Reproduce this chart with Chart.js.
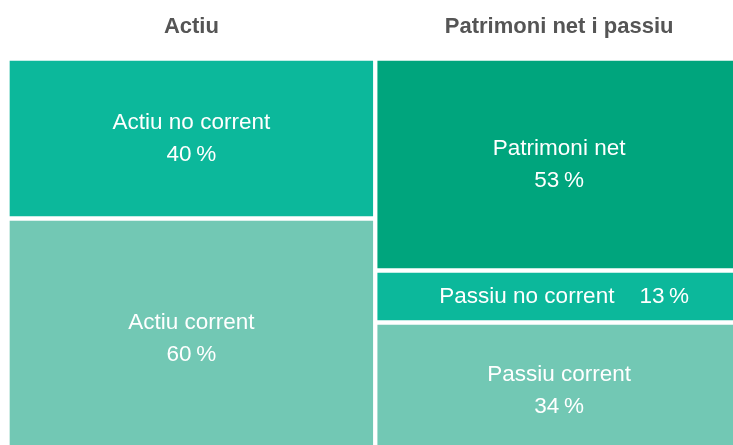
<!DOCTYPE html>
<html>
<head>
<meta charset="utf-8">
<script src="https://cdn.jsdelivr.net/npm/chart.js@4"></script>
<style>
  html, body { margin: 0; padding: 0; background: #fff; overflow: hidden; }
  #wrap { position: relative; width: 745px; height: 460px; }
</style>
</head>
<body>
<div id="wrap"><canvas id="chart"></canvas></div>
<script>
const columns = ['Actiu', 'Patrimoni net i passiu'];
// stacked bottom to top
const segmentNames = ['Actiu corrent', 'Actiu no corrent', 'Passiu corrent', 'Passiu no corrent', 'Patrimoni net'];
const segmentColumn = [0, 0, 1, 1, 1];
const segmentValues = [60, 40, 34, 13, 53];

const colors = ['#72c8b4', '#0cb89b', '#72c8b4', '#0cb89b', '#00a57d'];
const FONT = '"Liberation Sans", Arial, Helvetica, sans-serif';

const datasets = segmentNames.map((name, i) => ({
  label: name,
  data: columns.map((c, j) => j === segmentColumn[i] ? segmentValues[i] : null),
  backgroundColor: colors[i],
  borderColor: '#ffffff',
  borderWidth: 2.5,
  borderSkipped: false,
  categoryPercentage: 1,
  barPercentage: 1
}));

const segmentLabels = {
  id: 'segmentLabels',
  afterDatasetsDraw(chart) {
    const ctx = chart.ctx;
    ctx.save();
    ctx.fillStyle = '#ffffff';
    ctx.textAlign = 'center';
    ctx.textBaseline = 'middle';
    ctx.font = '22.5px ' + FONT;
    chart.data.datasets.forEach((ds, i) => {
      const meta = chart.getDatasetMeta(i);
      const el = meta.data[segmentColumn[i]];
      if (!el) return;
      const cy = (el.y + el.base) / 2;
      const pct = segmentValues[i] + '\u2009%';
      if (Math.abs(el.base - el.y) < 70) {
        ctx.fillText(ds.label + '    ' + pct, el.x + 5, cy);
      } else {
        ctx.fillText(ds.label, el.x, cy - 16);
        ctx.fillText(pct, el.x, cy + 16);
      }
    });
    ctx.restore();
  }
};

const columnTitles = {
  id: 'columnTitles',
  afterDraw(chart) {
    const ctx = chart.ctx;
    const xs = chart.scales.x;
    ctx.save();
    ctx.fillStyle = '#555555';
    ctx.textAlign = 'center';
    ctx.textBaseline = 'middle';
    ctx.font = 'bold 22px ' + FONT;
    columns.forEach((c, i) => {
      ctx.fillText(c, xs.getPixelForValue(i), 27);
    });
    ctx.restore();
  }
};

new Chart(document.getElementById('chart'), {
  type: 'bar',
  data: { labels: columns, datasets: datasets },
  options: {
    responsive: true,
    maintainAspectRatio: false,
    animation: false,
    layout: { padding: { left: 7.5, right: 2, top: 58.5, bottom: 1.5 } },
    plugins: { legend: { display: false }, tooltip: { enabled: false } },
    scales: {
      x: { stacked: true, display: false },
      y: { stacked: true, display: false, min: 0, max: 100 }
    }
  },
  plugins: [segmentLabels, columnTitles]
});
</script>
</body>
</html>
